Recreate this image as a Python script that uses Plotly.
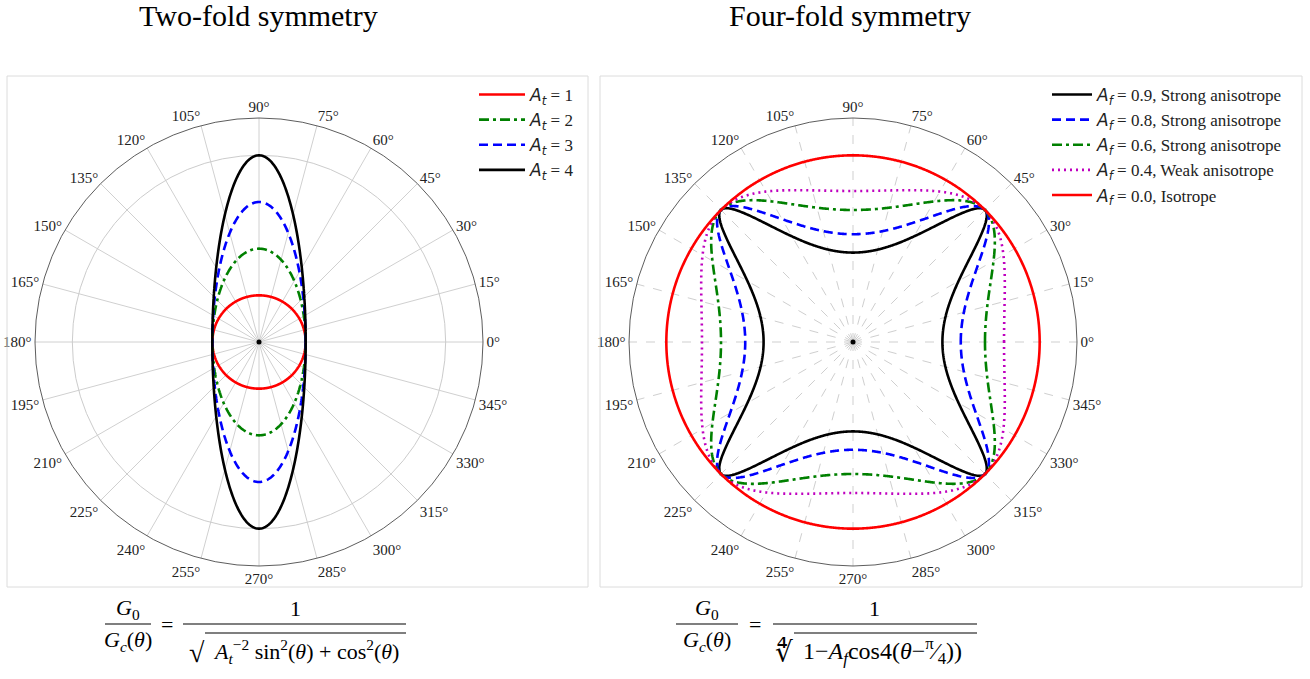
import numpy as np
import plotly.graph_objects as go

W, H = 1310, 679

# ---- data ----
At_values = [1, 2, 3, 4]
At_colors = ["#ff0000", "#008000", "#0000ff", "#000000"]
At_dashes = ["solid", "10px,4px,3px,4px", "9px,5px", "solid"]

Af_values = [0.9, 0.8, 0.6, 0.4, 0.0]
Af_labels = ["Strong anisotrope", "Strong anisotrope", "Strong anisotrope",
             "Weak anisotrope", "Isotrope"]
Af_colors = ["#000000", "#0000ff", "#008000", "#bf00bf", "#ff0000"]
Af_dashes = ["solid", "9px,5px", "10px,4px,3px,4px", "2px,4px", "solid"]

angle_ticks = list(range(0, 360, 15))
theta_deg = np.linspace(0, 360, 1441)
theta = np.deg2rad(theta_deg)


def px(x):
    return x / W


def py(y):
    return 1 - y / H


fig = go.Figure()
SERIF = "Liberation Serif"

# ---- left: two-fold symmetry ----
for A, c, d in zip(At_values, At_colors, At_dashes):
    r = 1.0 / np.sqrt(A ** -2 * np.sin(theta) ** 2 + np.cos(theta) ** 2)
    fig.add_trace(go.Scatterpolar(
        r=r, theta=theta_deg, mode="lines", subplot="polar",
        line=dict(color=c, width=2.6, dash=d),
        name=f'<span style="font-family:DejaVu Sans"><i>A</i><sub><i>t</i></sub></span> = {A}',
        legend="legend", legendgroup=f"t{A}"))
fig.add_trace(go.Scatterpolar(r=[0], theta=[0], mode="markers", subplot="polar",
                              marker=dict(color="black", size=5), showlegend=False))

# ---- right: four-fold symmetry ----
for A, lab, c, d in zip(Af_values, Af_labels, Af_colors, Af_dashes):
    r = ((1 - A) / (1 - A * np.cos(4 * (theta - np.pi / 4)))) ** 0.25
    fig.add_trace(go.Scatterpolar(
        r=r, theta=theta_deg, mode="lines", subplot="polar2",
        line=dict(color=c, width=2.6, dash=d),
        name=f'<span style="font-family:DejaVu Sans"><i>A</i><sub><i>f</i></sub></span> = {A:.1f}, {lab}',
        legend="legend2", legendgroup=f"f{A}"))
fig.add_trace(go.Scatterpolar(r=[0], theta=[0], mode="markers", subplot="polar2",
                              marker=dict(color="black", size=5), showlegend=False))

R = 224
angfont = dict(family=SERIF, size=15, color="#222222")


def polar_layout(cx, cy, rmax, rticks, griddash, gridcolor):
    return dict(
        domain=dict(x=[px(cx - R), px(cx + R)], y=[py(cy + R), py(cy - R)]),
        bgcolor="white",
        angularaxis=dict(
            tickmode="array", tickvals=angle_ticks,
            ticktext=[f"{a}°" for a in angle_ticks],
            rotation=0, direction="counterclockwise",
            showline=True, linecolor="#333333", linewidth=0.8,
            ticks="", tickfont=angfont,
            showgrid=True, gridcolor=gridcolor, gridwidth=0.8, griddash=griddash),
        radialaxis=dict(
            range=[0, rmax], showline=False, ticks="", showticklabels=False,
            tickmode="array", tickvals=rticks,
            showgrid=len(rticks) > 0, gridcolor="#cccccc", gridwidth=0.8),
    )


legfont = dict(family=SERIF, size=17, color="#222222")
fig.update_layout(
    width=W, height=H,
    margin=dict(l=0, r=0, t=0, b=0),
    paper_bgcolor="white",
    showlegend=True,
    polar=polar_layout(259, 342, 4.8, [4], "solid", "#d0d0d0"),
    polar2=polar_layout(853, 342, 1.2, [], "dash", "#cfcfcf"),
    legend=dict(x=px(474), y=py(77), xanchor="left", yanchor="top",
                bgcolor="rgba(0,0,0,0)", font=legfont, tracegroupgap=0, itemwidth=46),
    legend2=dict(x=px(1047), y=py(77), xanchor="left", yanchor="top",
                 bgcolor="rgba(0,0,0,0)", font=legfont, tracegroupgap=0, itemwidth=40),
)

shapes = []
for x0, x1 in [(7, 588), (600, 1302)]:
    shapes.append(dict(type="rect", xref="paper", yref="paper",
                       x0=px(x0), x1=px(x1), y0=py(587), y1=py(76),
                       line=dict(color="#dcdcdc", width=1)))

annotations = []


def txt(t, x, y, size=22):
    annotations.append(dict(text=t, x=px(x), y=py(y), xref="paper", yref="paper",
                            xanchor="center", yanchor="middle", showarrow=False,
                            font=dict(family=SERIF, size=size, color="black")))


def hline(x0, x1, y, w=1.2):
    shapes.append(dict(type="line", xref="paper", yref="paper",
                       x0=px(x0), x1=px(x1), y0=py(y), y1=py(y),
                       line=dict(color="black", width=w)))


# titles
txt("Two-fold symmetry", 258, 15, 30)
txt("Four-fold symmetry", 850, 15, 30)

# left formula
txt("<i>G</i><sub>0</sub>", 128, 609)
hline(105, 151, 624)
txt("<i>G<sub>c</sub></i>(<i>θ</i>)", 128, 641)
txt("=", 167, 624)
txt("1", 295, 608)
hline(183, 406, 624)
txt("√", 197, 652, 28)
hline(205, 406, 633)
txt("<i>A<sub>t</sub></i><sup>−2</sup> sin<sup>2</sup>(<i>θ</i>) + cos<sup>2</sup>(<i>θ</i>)", 306, 651)

# right formula
txt("<i>G</i><sub>0</sub>", 707, 609)
hline(676, 738, 624)
txt("<i>G<sub>c</sub></i>(<i>θ</i>)", 707, 641)
txt("=", 755, 624)
txt("1", 875, 608)
hline(773, 977, 624)
txt("∜", 784, 652, 28)
hline(794, 977, 633)
txt("1−<i>A<sub>f</sub></i>cos4(<i>θ</i>−<sup>π</sup>⁄<sub>4</sub>))", 882, 651, 24)

fig.update_layout(shapes=shapes, annotations=annotations)
fig.write_html("out.html",
               config={"displayModeBar": False},
               post_script="document.body.style.margin='0px';"
                           "document.body.style.overflow='hidden';")
